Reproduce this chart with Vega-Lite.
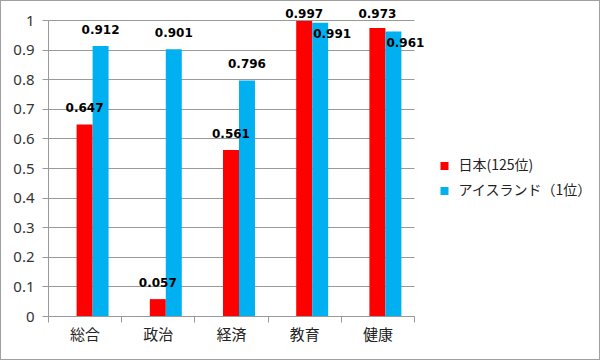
{
  "$schema": "https://vega.github.io/schema/vega-lite/v6.json",
  "width": 600,
  "height": 360,
  "autosize": {"type": "none"},
  "padding": 0,
  "background": "white",
  "config": {
    "view": {"stroke": "#a0a0a0", "strokeWidth": 2}
  },
  "data": {
    "values": [
      {"cat": "総合", "series": "日本(125位)", "value": 0.647},
      {"cat": "政治", "series": "日本(125位)", "value": 0.057},
      {"cat": "経済", "series": "日本(125位)", "value": 0.561},
      {"cat": "教育", "series": "日本(125位)", "value": 0.997},
      {"cat": "健康", "series": "日本(125位)", "value": 0.973},
      {"cat": "総合", "series": "アイスランド（1位）", "value": 0.912},
      {"cat": "政治", "series": "アイスランド（1位）", "value": 0.901},
      {"cat": "経済", "series": "アイスランド（1位）", "value": 0.796},
      {"cat": "教育", "series": "アイスランド（1位）", "value": 0.991},
      {"cat": "健康", "series": "アイスランド（1位）", "value": 0.961}
    ]
  },
  "encoding": {
    "x": {
      "field": "cat",
      "type": "nominal",
      "sort": ["総合", "政治", "経済", "教育", "健康"],
      "scale": {"range": [48, 414], "paddingInner": 0, "paddingOuter": 0},
      "axis": {
        "title": null,
        "orient": "bottom",
        "offset": -44,
        "tickBand": "extent",
        "domainColor": "#999999",
        "tickColor": "#999999",
        "tickSize": 6,
        "labelFont": "Noto Sans CJK JP",
        "labelFontSize": 15,
        "labelColor": "#222222",
        "labelPadding": 5,
        "labelAngle": 0
      }
    },
    "xOffset": {
      "field": "series",
      "type": "nominal",
      "scale": {"domain": ["_", "日本(125位)", "アイスランド（1位）"], "paddingOuter": 0.79, "paddingInner": 0}
    },
    "y": {
      "field": "value",
      "type": "quantitative",
      "scale": {"domain": [0, 1], "range": [316, 20], "nice": false, "zero": true},
      "axis": {
        "title": null,
        "orient": "left",
        "offset": -48,
        "values": [0, 0.1, 0.2, 0.3, 0.4, 0.5, 0.6, 0.7, 0.8, 0.9, 1],
        "format": "~g",
        "grid": true,
        "gridColor": "#999999",
        "domainColor": "#999999",
        "tickColor": "#999999",
        "tickSize": 6,
        "labelFont": "Noto Sans",
        "labelFontSize": 15,
        "labelColor": "#333333",
        "labelPadding": 8
      }
    }
  },
  "layer": [
    {
      "mark": {"type": "bar"},
      "encoding": {
        "color": {
          "field": "series",
          "type": "nominal",
          "scale": {"domain": ["日本(125位)", "アイスランド（1位）"], "range": ["#ff0000", "#00b0f0"]},
          "legend": {
            "orient": "none",
            "legendX": 437.5,
            "legendY": 159,
            "title": null,
            "symbolType": "square",
            "symbolSize": 64,
            "symbolStrokeWidth": 0,
            "labelFont": "Noto Sans CJK JP",
            "labelFontSize": 14,
            "labelColor": "#222222",
            "labelOffset": 7,
            "labelLimit": 300,
            "rowPadding": 11,
            "padding": 0
          }
        }
      }
    },
    {
      "transform": [{"filter": "!((datum.cat == '教育' || datum.cat == '健康'))"}],
      "mark": {"type": "text", "font": "DejaVu Sans", "fontWeight": "bold", "fontSize": 12, "baseline": "alphabetic", "align": "center", "dy": -12, "color": "#000000"},
      "encoding": {"text": {"field": "value", "type": "quantitative", "format": ".3f"}}
    },
    {
      "transform": [{"filter": "(datum.cat == '教育' || datum.cat == '健康') && datum.series == '日本(125位)'"}],
      "mark": {"type": "text", "font": "DejaVu Sans", "fontWeight": "bold", "fontSize": 12, "baseline": "alphabetic", "align": "center", "dy": -2, "color": "#000000"},
      "encoding": {
        "y": {"datum": 1},
        "text": {"field": "value", "type": "quantitative", "format": ".3f"}
      }
    },
    {
      "transform": [{"filter": "(datum.cat == '教育' || datum.cat == '健康') && datum.series != '日本(125位)'"}],
      "mark": {"type": "text", "font": "DejaVu Sans", "fontWeight": "bold", "fontSize": 12, "baseline": "middle", "align": "center", "dy": 11, "dx": 12, "color": "#000000"},
      "encoding": {"text": {"field": "value", "type": "quantitative", "format": ".3f"}}
    }
  ]
}
